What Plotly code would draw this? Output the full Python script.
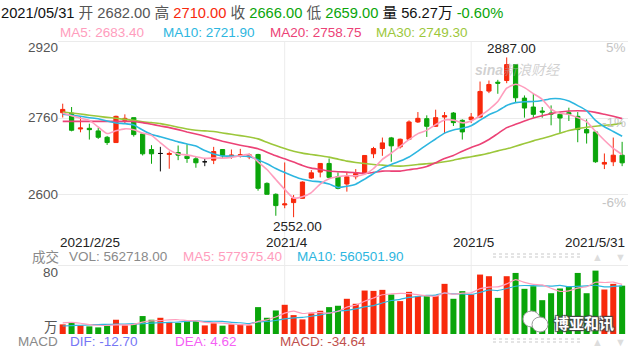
import plotly.graph_objects as go

# ---------------- data ----------------
dates = ["2021/2/25", "2021/2/26",
         "2021/3/1", "2021/3/2", "2021/3/3", "2021/3/4", "2021/3/5",
         "2021/3/8", "2021/3/9", "2021/3/10", "2021/3/11", "2021/3/12",
         "2021/3/15", "2021/3/16", "2021/3/17", "2021/3/18", "2021/3/19",
         "2021/3/22", "2021/3/23", "2021/3/24", "2021/3/25", "2021/3/26",
         "2021/3/29", "2021/3/30", "2021/3/31",
         "2021/4/1", "2021/4/2", "2021/4/6", "2021/4/7", "2021/4/8", "2021/4/9",
         "2021/4/12", "2021/4/13", "2021/4/14", "2021/4/15", "2021/4/16",
         "2021/4/19", "2021/4/20", "2021/4/21", "2021/4/22", "2021/4/23",
         "2021/4/26", "2021/4/27", "2021/4/28", "2021/4/29", "2021/4/30",
         "2021/5/6", "2021/5/7", "2021/5/10", "2021/5/11", "2021/5/12",
         "2021/5/13", "2021/5/14", "2021/5/17", "2021/5/18", "2021/5/19",
         "2021/5/20", "2021/5/21", "2021/5/24", "2021/5/25", "2021/5/26",
         "2021/5/27", "2021/5/28", "2021/5/31"]

opens = [2771, 2770.4, 2737, 2738.4, 2732.9, 2719.6, 2708.5, 2755, 2760.7, 2726.6,
         2693.9, 2685.6, 2683.5, 2687.6, 2680, 2674.4, 2668.2, 2671.6, 2693.9, 2680,
         2680.7, 2678.6, 2683.5, 2622.9, 2600, 2577.7, 2582.6, 2591.6, 2634, 2646.6,
         2664.7, 2636.9, 2621.6, 2636.9, 2643.8, 2684.9, 2696, 2718.3, 2699.5, 2715.5,
         2751.7, 2758.6, 2742.6, 2762, 2770.4, 2755.1, 2756.5, 2762, 2816.4, 2835.1,
         2838.6, 2872, 2801.7, 2783, 2774.6, 2770.4, 2767.7, 2771.1, 2763.5, 2735.7,
         2730.8, 2663.3, 2668.2, 2682]
highs = [2790, 2783, 2763.5, 2748, 2739.8, 2722.4, 2764.9, 2767.7, 2760.7, 2727,
         2703, 2699.5, 2689.7, 2702.3, 2705, 2678.6, 2675, 2699.5, 2694, 2694,
         2695.3, 2685.6, 2684.9, 2625, 2602, 2666.8, 2598.6, 2627, 2650.8, 2664.7,
         2675, 2645.9, 2645.2, 2652.9, 2681.4, 2699.5, 2719, 2720.3, 2716.9, 2755,
         2772.5, 2765.6, 2777.4, 2772.5, 2772.5, 2757.2, 2770.4, 2836.5, 2838.6, 2840,
         2887, 2872, 2807.3, 2810.8, 2783, 2786.4, 2772.5, 2781.6, 2772.5, 2757.2,
         2731, 2685.6, 2719, 2710]
lows = [2761, 2732, 2730, 2714.8, 2716.2, 2703.6, 2708, 2748.2, 2721, 2681.4,
        2664, 2648, 2653.6, 2671.6, 2666, 2655.7, 2659, 2663.3, 2675.1, 2674.4,
        2677.2, 2673.7, 2607.6, 2600, 2555, 2570.8, 2552, 2591, 2632, 2635.5,
        2633.4, 2610.4, 2605.6, 2631.3, 2642.4, 2675.8, 2680.7, 2668.2, 2696, 2715,
        2749.6, 2720.3, 2741.2, 2727.3, 2743.3, 2714.8, 2749.6, 2760.7, 2812.2, 2810.8,
        2833, 2793.4, 2760.7, 2760.7, 2760.7, 2744.7, 2728.7, 2753.7, 2709.2, 2706.4,
        2666.1, 2652.9, 2659.1, 2659]
closes = [2778, 2734.3, 2739, 2735.6, 2719.6, 2708.5, 2763.5, 2759.3, 2725.2, 2684.9,
          2684.9, 2685.6, 2685.6, 2682.1, 2675, 2666.1, 2668.2, 2689.7, 2680.7, 2682.1,
          2682.8, 2682.8, 2612.5, 2600, 2576.3, 2579.8, 2591.6, 2625.7, 2645, 2664.7,
          2635.5, 2612.5, 2636.9, 2643.8, 2681.4, 2696, 2707.8, 2701.6, 2715.5, 2751.7,
          2759.3, 2742.6, 2760.7, 2764.9, 2750.3, 2730.8, 2762, 2815.7, 2830.3, 2833,
          2872, 2802.4, 2780.9, 2767.7, 2772.5, 2768.3, 2760, 2767.7, 2735.7, 2728.7,
          2668.2, 2666.8, 2682, 2666]

ma5 = [2770.4, 2764.9, 2759.5, 2755.0, 2741.3, 2727.4, 2733.2, 2737.3, 2735.2, 2728.3,
       2723.6, 2708.0, 2693.2, 2684.6, 2682.6, 2678.9, 2675.4, 2676.2, 2675.9, 2677.4,
       2680.7, 2683.6, 2668.2, 2652.0, 2630.9, 2610.3, 2592.0, 2594.7, 2603.7, 2621.4,
       2632.5, 2636.7, 2638.9, 2638.7, 2642.0, 2654.1, 2673.2, 2686.1, 2700.5, 2714.5,
       2727.2, 2734.1, 2746.0, 2755.8, 2755.6, 2749.9, 2753.7, 2764.7, 2777.8, 2794.4,
       2822.6, 2830.7, 2823.7, 2811.2, 2799.1, 2778.4, 2769.9, 2767.2, 2760.8, 2752.1,
       2732.1, 2713.4, 2696.3, 2683.40]
ma10 = [2767.7, 2765.6, 2763.5, 2760.7, 2758.6, 2753.7, 2749.6, 2748.2, 2745.4, 2734.8,
        2725.5, 2720.6, 2715.3, 2709.9, 2705.5, 2701.2, 2691.7, 2684.7, 2680.3, 2680.0,
        2679.8, 2679.5, 2672.2, 2664.0, 2654.1, 2645.5, 2637.8, 2631.4, 2627.9, 2626.1,
        2621.4, 2614.4, 2616.8, 2621.2, 2631.7, 2643.3, 2654.9, 2662.5, 2669.6, 2678.3,
        2690.7, 2703.7, 2716.0, 2728.2, 2735.0, 2738.5, 2743.9, 2755.4, 2766.8, 2775.0,
        2786.2, 2792.2, 2794.2, 2794.5, 2796.7, 2800.5, 2800.3, 2795.5, 2786.0, 2775.6,
        2755.2, 2741.7, 2731.8, 2721.90]
ma20 = [2753.0, 2753.0, 2753.0, 2753.0, 2753.0, 2753.0, 2753.0, 2753.0, 2752.7, 2750.3,
        2746.8, 2743.3, 2739.8, 2735.6, 2730.8, 2726.6, 2721.7, 2716.2, 2711.3, 2707.1,
        2703.0, 2699.5, 2695.3, 2688.3, 2680.7, 2674.4, 2667.5, 2660.5, 2654.9, 2652.1,
        2648.7, 2647.3, 2646.6, 2645.2, 2643.8, 2645.9, 2648.7, 2648.7, 2648.7, 2651.5,
        2654.2, 2658.4, 2666.1, 2675.1, 2681.4, 2690.4, 2698.1, 2705.0, 2714.8, 2727.3,
        2739.8, 2746.8, 2753.7, 2760.0, 2764.9, 2769.0, 2772.5, 2774.6, 2775.3, 2774.6,
        2771.8, 2767.7, 2763.5, 2758.75]
ma30 = [2772.5, 2770.4, 2768.3, 2765.9, 2763.5, 2761.4, 2759.3, 2757.2, 2755.1, 2752.3,
        2750.3, 2748.2, 2744.7, 2740.5, 2737.0, 2734.3, 2732.9, 2731.8, 2728.7, 2725.9,
        2723.1, 2720.0, 2716.2, 2709.2, 2702.3, 2696.0, 2690.4, 2686.3, 2683.5, 2680.7,
        2677.9, 2673.7, 2669.6, 2666.8, 2664.7, 2662.6, 2661.2, 2659.8, 2659.1, 2660.5,
        2662.6, 2664.0, 2665.4, 2668.2, 2671.6, 2675.8, 2678.6, 2682.1, 2686.3, 2691.1,
        2695.3, 2700.9, 2706.4, 2712.0, 2716.9, 2722.4, 2728.0, 2733.6, 2737.7, 2740.5,
        2742.6, 2744.7, 2746.1, 2749.30]

# volume in 万 (10,000 lots)
volume = [11.2, 13.1, 10.0, 8.9, 7.7, 10.0, 16.6, 10.0, 12.0, 20.9,
          16.6, 18.9, 13.9, 12.8, 15.8, 15.1, 10.0, 12.4, 9.7, 11.2,
          11.2, 10.0, 31.3, 18.9, 27.4, 34.0, 22.0, 17.0, 24.0, 27.1,
          31.3, 32.9, 41.0, 35.2, 50.6, 50.2, 51.4, 46.0, 38.3, 49.1,
          44.1, 44.1, 44.1, 58.4, 41.0, 49.9, 46.0, 69.2, 67.3, 42.1,
          67.3, 71.1, 52.6, 55.7, 39.4, 47.5, 53.0, 55.7, 71.1, 47.5,
          73.8, 51.8, 58.4, 56.2718]
vol_ma5 = [13.0, 13.5, 12.5, 11.0, 10.18, 9.94, 10.64, 10.64, 11.26, 13.9,
           15.22, 15.68, 16.46, 16.62, 15.6, 15.3, 13.52, 13.22, 12.6, 11.68,
           10.9, 10.9, 14.68, 16.52, 19.76, 24.32, 26.72, 23.86, 24.88, 24.82,
           24.28, 26.46, 31.26, 33.5, 38.2, 41.98, 45.68, 46.68, 47.3, 47.0,
           45.78, 44.32, 43.94, 47.96, 46.34, 47.5, 47.88, 52.9, 54.68, 54.9,
           58.38, 63.4, 60.08, 57.76, 57.22, 53.26, 49.64, 50.26, 53.34, 54.96,
           60.22, 59.98, 60.52, 57.79754]
vol_ma10 = [9.3, 9.8, 10.2, 10.6, 11.0, 11.2, 11.4, 11.6, 11.8, 12.04,
            12.58, 13.16, 13.55, 13.94, 14.75, 15.26, 14.6, 14.84, 14.61, 13.64,
            13.1, 12.21, 13.95, 14.56, 15.72, 17.61, 18.81, 19.27, 20.7, 22.29,
            24.3, 26.59, 27.56, 29.19, 31.51, 33.13, 36.07, 38.97, 40.4, 42.6,
            43.88, 45.0, 45.31, 47.63, 46.67, 46.64, 46.1, 48.42, 51.32, 50.62,
            52.94, 55.64, 56.49, 56.22, 56.06, 55.82, 56.52, 55.17, 55.55, 56.09,
            56.74, 54.81, 55.39, 56.05019]

macd_dif, macd_dea, macd_hist = -12.70, 4.62, -34.64
price_ticks = [2920, 2760, 2600]
pct_ticks = ["5%", "-1%", "-6%"]
vol_tick = 80
month_labels = [("2021/4/1", "2021/4"), ("2021/5/6", "2021/5")]

# ---------------- style ----------------
RED = "#f8290c"
GREEN = "#0aa50a"
C_MA5, C_MA10, C_MA20, C_MA30 = "#ff9dbd", "#2db6e0", "#ec4276", "#9cc73b"
FONT = "Liberation Sans, Arial, Noto Sans CJK SC, sans-serif"
W, H, L, R = 635, 351, 58, 7
PW = W - L - R


def px(x):
    return (x - L) / PW


def py(y):
    return (H - y) / H


# ---------------- traces ----------------
is_doji = [o == c for o, c in zip(opens, closes)]


def pick(vals, keep):
    return [v if k else None for v, k in zip(vals, keep)]


normal = [not d for d in is_doji]
fig = go.Figure()
fig.add_trace(go.Candlestick(
    x=dates, open=pick(opens, normal), high=pick(highs, normal),
    low=pick(lows, normal), close=pick(closes, normal),
    increasing=dict(line=dict(color=RED, width=1), fillcolor=RED),
    decreasing=dict(line=dict(color=GREEN, width=1), fillcolor=GREEN),
    whiskerwidth=0, hoverinfo="skip", xaxis="x", yaxis="y"))
fig.add_trace(go.Candlestick(
    x=dates, open=pick(opens, is_doji), high=pick(highs, is_doji),
    low=pick(lows, is_doji), close=pick(closes, is_doji),
    increasing=dict(line=dict(color="#111111", width=1), fillcolor="#111111"),
    decreasing=dict(line=dict(color="#111111", width=1), fillcolor="#111111"),
    whiskerwidth=0, hoverinfo="skip", xaxis="x", yaxis="y"))

for vals, col in [(ma30, C_MA30), (ma20, C_MA20), (ma10, C_MA10), (ma5, C_MA5)]:
    fig.add_trace(go.Scatter(x=dates, y=vals, mode="lines",
                             line=dict(color=col, width=1.6, shape="spline", smoothing=0.5),
                             hoverinfo="skip", xaxis="x", yaxis="y"))

vol_colors = [RED if c >= o else GREEN for o, c in zip(opens, closes)]
fig.add_trace(go.Bar(x=dates, y=volume, marker=dict(color=vol_colors, line=dict(width=0)),
                     hoverinfo="skip", xaxis="x2", yaxis="y2"))
for vals, col in [(vol_ma10, C_MA10), (vol_ma5, C_MA5)]:
    fig.add_trace(go.Scatter(x=dates, y=vals, mode="lines",
                             line=dict(color=col, width=1.2, shape="spline", smoothing=0.5),
                             hoverinfo="skip", xaxis="x2", yaxis="y2"))

# ---------------- axes ----------------
n = len(dates)
xr = [-0.53, n - 1 + 0.66]
main_top, main_bot = 40, 232
p_per_px = 320 / (194.3 - 41.7)
y_hi = 2920 + (41.7 - main_top) * p_per_px
y_lo = 2600 - (main_bot - 194.3) * p_per_px
vol_top, vol_bot = 263, 334
v_hi = vol_tick * (vol_bot - vol_top) / (vol_bot - 265.3)

axis_common = dict(showticklabels=False, zeroline=False, showline=False, ticks="")
fig.update_layout(
    width=W, height=H, margin=dict(l=L, r=R, t=0, b=0),
    paper_bgcolor="white", plot_bgcolor="white", showlegend=False,
    boxgap=0.32, bargap=0.32,
    font=dict(family=FONT, size=13, color="#555"),
    xaxis=dict(type="category", range=xr, showgrid=False, anchor="y",
               rangeslider=dict(visible=False), **axis_common),
    yaxis=dict(domain=[py(main_bot), py(main_top)], range=[y_lo, y_hi],
               tickvals=price_ticks, showgrid=True, gridcolor="#ebebeb", gridwidth=1,
               **axis_common),
    xaxis2=dict(type="category", range=xr, showgrid=False, anchor="y2",
                matches="x", rangeslider=dict(visible=False), **axis_common),
    yaxis2=dict(domain=[py(vol_bot), py(vol_top)], range=[0, v_hi],
                tickvals=[vol_tick], showgrid=True, gridcolor="#ebebeb", gridwidth=1,
                **axis_common),
)

shapes = []
for d, _ in month_labels:
    shapes.append(dict(type="line", xref="x", yref="paper", x0=d, x1=d,
                       y0=py(334), y1=py(41.7), line=dict(color="#ececec", width=1),
                       layer="below"))
# scroll controls (dotted bands)
for yy in (254, 257, 339, 342):
    shapes.append(dict(type="line", xref="paper", yref="paper", x0=px(493), x1=px(582),
                       y0=py(yy), y1=py(yy), line=dict(color="#dcdcdc", width=1.5, dash="dot")))
# wechat icon
shapes.append(dict(type="circle", xref="paper", yref="paper", x0=px(523), x1=px(540),
                   y0=py(327), y1=py(311), fillcolor="white", line=dict(color="#9a9a9a", width=1)))
shapes.append(dict(type="circle", xref="paper", yref="paper", x0=px(532), x1=px(548),
                   y0=py(332), y1=py(317), fillcolor="white", line=dict(color="#9a9a9a", width=1)))
fig.update_layout(shapes=shapes)

ann = []


def text(x, y, s, size=13.5, color="#555", xanchor="left", **kw):
    ann.append(dict(xref="paper", yref="paper", x=px(x), y=py(y), text=s, showarrow=False,
                    xanchor=xanchor, yanchor="middle", borderpad=0,
                    font=dict(size=size, color=color, family=FONT), **kw))


# header row 1
last = n - 1
chg = (closes[last] - closes[last - 1]) / closes[last - 1] * 100
hdr = (f'<span style="color:#111">{dates[last].replace("/5/", "/05/")}</span> '
       f'开 {opens[last]:.2f} 高 <span style="color:{RED}">{highs[last]:.2f}</span> '
       f'收 <span style="color:{GREEN}">{closes[last]:.2f}</span> '
       f'低 <span style="color:{GREEN}">{lows[last]:.2f}</span> '
       f'<span style="color:#111">量 {volume[last]:.2f}万</span> '
       f'<span style="color:{GREEN}">{chg:.2f}%</span>')
text(0, 13, hdr, size=14.7, color="#555")
# MA row
text(59, 32, f"MA5: {ma5[last]:.2f}", color=C_MA5)
text(162, 32, f"MA10: {ma10[last]:.2f}", color=C_MA10)
text(269, 32, f"MA20: {ma20[last]:.2f}", color=C_MA20)
text(375, 32, f"MA30: {ma30[last]:.2f}", color=C_MA30)
# price labels
for v, yy in zip(price_ticks, [48, 117.7, 194.3]):
    text(59, yy, str(v), xanchor="right")
for s, yy in zip(pct_ticks, [48, 123, 202]):
    text(627, yy, s, color="#c4c4c4", xanchor="right")
# date labels
dl_font = dict(size=13.5, color="#222", family=FONT)
ann.append(dict(xref="x", yref="paper", x=dates[0], y=py(242.5), text=dates[0], showarrow=False,
                xanchor="left", yanchor="middle", xshift=-4, borderpad=0, font=dl_font))
ann.append(dict(xref="x", yref="paper", x=dates[last], y=py(242.5), text=dates[last],
                showarrow=False, xanchor="right", yanchor="middle", xshift=4, borderpad=0,
                font=dl_font))
for d, lab in month_labels:
    ann.append(dict(xref="x", yref="paper", x=d, y=py(242.5), text=lab, showarrow=False,
                    xanchor="center", yanchor="middle", xshift=2, borderpad=0, font=dl_font))
# extreme labels
i_lo = lows.index(min(lows))
i_hi = highs.index(max(highs))
ann.append(dict(xref="x", yref="y", x=dates[i_lo], y=lows[i_lo], text=f"{lows[i_lo]:.2f}",
                showarrow=False, xanchor="center", yanchor="top", xshift=4, yshift=-1,
                borderpad=0, font=dl_font))
ann.append(dict(xref="x", yref="y", x=dates[i_hi], y=highs[i_hi], text=f"{highs[i_hi]:.2f}",
                showarrow=False, xanchor="center", yanchor="bottom", xshift=5, yshift=0,
                borderpad=0, font=dl_font))
# volume header
text(31, 256.5, "成交", color="#8a8a8a")
text(68, 256.5, f"VOL: {volume[last] * 1e4:.2f}", color="#8a8a8a")
text(182, 256.5, f"MA5: {vol_ma5[last] * 1e4:.2f}", color=C_MA5)
text(296, 256.5, f"MA10: {vol_ma10[last] * 1e4:.2f}", color=C_MA10)
text(59, 272.7, str(vol_tick), xanchor="right")
text(59, 327.5, "万", xanchor="right")
# MACD row
text(59, 341.5, "MACD", color="#8a8a8a", xanchor="right")
text(69, 341.5, f"DIF: {macd_dif:.2f}", color="#7676f5")
text(174, 341.5, f"DEA: {macd_dea:.2f}", color="#f55ff5")
text(279, 341.5, f"MACD: {macd_hist:.2f}", color="#c0504d")
# scroll arrows
for yy in (257, 342):
    text(597, yy, "▲", size=11, color="#dddddd", xanchor="center")
    text(620, yy, "▼", size=11, color="#dddddd", xanchor="center")
# watermarks
text(518, 70, "<b><i>sina</i></b><i>新浪财经</i>", size=14, color="rgba(170,170,170,0.55)",
     xanchor="center")
ann.append(dict(xref="paper", yref="paper", x=px(584), y=py(322), text="<b>博亚和讯</b>",
                showarrow=False, xanchor="center", yanchor="middle",
                font=dict(size=15, color="white", family="Noto Sans CJK SC",
                          shadow="1px 1px 1px #444, -1px -1px 1px #444, 1px -1px 1px #444, -1px 1px 1px #444")))
fig.update_layout(annotations=ann)

fig.write_html("out.html", config={"displayModeBar": False})
